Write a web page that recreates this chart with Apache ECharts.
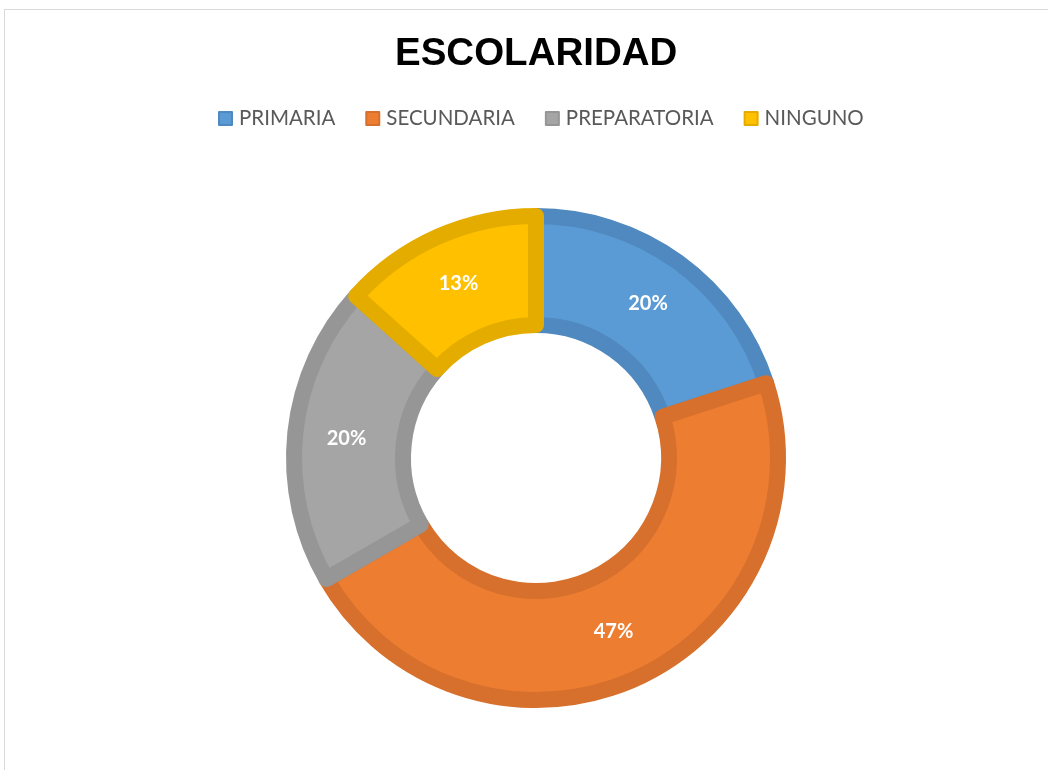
<!DOCTYPE html>
<html>
<head>
<meta charset="utf-8">
<script src="https://cdn.jsdelivr.net/npm/echarts@6/dist/echarts.min.js"></script>
<style>
  html, body { margin: 0; padding: 0; background: #fff; }
  #frame {
    position: absolute; left: 4px; top: 9px; width: 1060px; height: 780px;
    border: 1px solid #d9d9d9; box-sizing: border-box;
  }
  #chart { position: absolute; left: 0; top: 0; width: 1048px; height: 770px; }
</style>
</head>
<body>
<div id="frame"></div>
<div id="chart"></div>
<script>
  // escolaridad (conteos)
  const categories = ['PRIMARIA', 'SECUNDARIA', 'PREPARATORIA', 'NINGUNO'];
  const values = [3, 7, 3, 2];
  const fillColors = ['#5b9bd5', '#ed7d31', '#a5a5a5', '#ffc000'];
  const edgeColors = ['#4f89bf', '#d6702c', '#969696', '#e5ac00'];

  const chart = echarts.init(document.getElementById('chart'));

  const pieData = categories.map((name, i) => ({
    name: name,
    value: values[i],
    itemStyle: { color: fillColors[i], borderColor: edgeColors[i] }
  }));

  chart.setOption({
    animation: false,
    title: {
      text: 'ESCOLARIDAD',
      left: 390,
      top: 30,
      textStyle: { fontFamily: 'Liberation Sans', fontWeight: 'bold', fontSize: 38.5, color: '#000' }
    },
    legend: {
      data: categories,
      top: 103,
      left: 213,
      icon: 'rect',
      itemWidth: 13,
      itemHeight: 13,
      itemGap: 30,
      textStyle: { fontFamily: 'Lato', fontSize: 20.5, color: '#595959', padding: [0, 0, 0, 2] }
    },
    series: [{
      type: 'pie',
      center: [536, 458],
      radius: [133, 242],
      startAngle: 90,
      clockwise: true,
      data: pieData,
      itemStyle: { borderWidth: 16 },
      label: {
        position: 'inside',
        formatter: p => Math.round(p.percent) + '%',
        fontFamily: 'Lato',
        fontWeight: 'bold',
        fontSize: 20,
        color: '#fff'
      },
      labelLine: { show: false },
      emphasis: { disabled: true }
    }]
  });
</script>
</body>
</html>
